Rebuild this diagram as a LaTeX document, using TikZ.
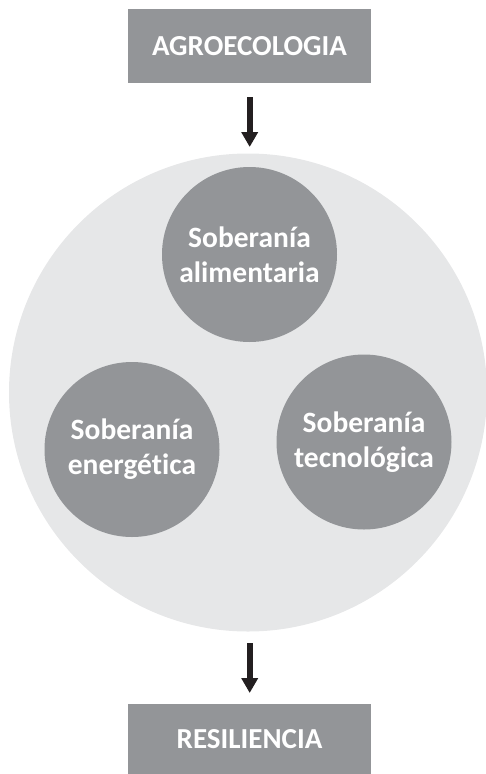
\documentclass[tikz,border=0pt]{standalone}
\usepackage{fontspec}
\setmainfont{Carlito}[Ligatures=NoCommon]
\usetikzlibrary{arrows.meta}
\definecolor{boxgray}{HTML}{939598}
\definecolor{bggray}{HTML}{E6E7E8}
\definecolor{arrowdark}{HTML}{231F20}
\tikzset{
  labelbox/.style={fill=boxgray, draw=none, minimum width=243pt, minimum height=74pt, inner sep=0pt,
    text=white, font=\fontsize{29}{32}\selectfont\bfseries},
  sovcircle/.style={circle, fill=boxgray, draw=none, minimum size=175pt, inner sep=0pt,
    text=white, align=center, font=\fontsize{29.5}{35}\selectfont\bfseries},
  bigcircle/.style={circle, fill=bggray, draw=none, minimum size=478pt, inner sep=0pt},
  flowarrow/.style={draw=arrowdark, line width=6pt, -{Triangle[length=15pt,width=16pt]}}
}
\begin{document}
\begin{tikzpicture}[x=1pt,y=-1pt]
\useasboundingbox (0,0) rectangle (485,774);
\node[labelbox] (agro) at (249.5,46) {AGROECOLOGIA};
\node[bigcircle] (big) at (248,392.5) {};
\node[sovcircle] (alim) at (249.5,254.5) {Soberanía\\alimentaria};
\node[sovcircle] (ener) at (132,449.5) {Soberanía\\energética};
\node[sovcircle] (tecn) at (364,442) {Soberanía\\tecnológica};
\node[labelbox, minimum height=70pt] (resi) at (249.5,739) {RESILIENCIA};
\coordinate (a1s) at (249.7,97);
\coordinate (a1e) at (249.7,147);
\coordinate (a2s) at (249.7,643);
\coordinate (a2e) at (249.7,693);
\draw[flowarrow] (a1s) -- (a1e);
\draw[flowarrow] (a2s) -- (a2e);
\end{tikzpicture}
\end{document}
